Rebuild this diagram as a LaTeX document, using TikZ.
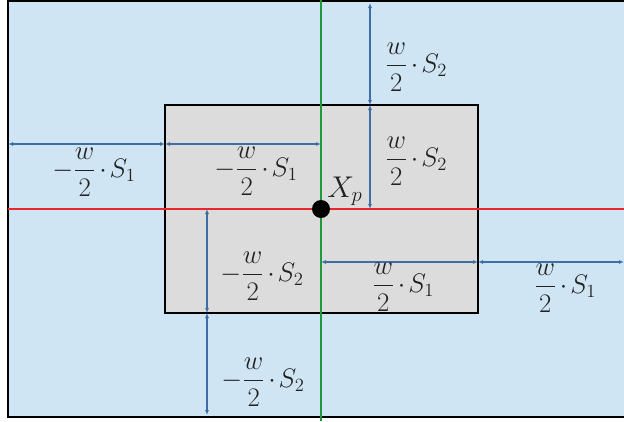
\documentclass[tikz,border=0pt]{standalone}
\usepackage{amsmath}
\usetikzlibrary{arrows.meta}

\begin{document}
\begin{tikzpicture}[x=1pt, y=-1pt,
    dimArrow/.style={draw=arrowColour, line width=1.6pt, {Latex[length=5pt,width=4pt]}-{Latex[length=5pt,width=4pt]}},
    dimLabel/.style={text=textColour, font=\LARGE, scale=1.55, inner sep=0pt}]
    % Define colours
    \definecolor{borderColour}{HTML}{000000}
    \definecolor{outerColour}{HTML}{D0E5F3}
    \definecolor{innerColour}{HTML}{DCDCDC}
    \definecolor{arrowColour}{HTML}{3F6EA6}
    \definecolor{axisOneColour}{HTML}{E8262B}
    \definecolor{axisTwoColour}{HTML}{1E9A3A}
    \definecolor{textColour}{HTML}{222222}

    % Fix picture size
    \useasboundingbox (0,0) rectangle (624,421);

    % Define coordinates for the outer and inner rectangles
    \coordinate (O1) at (8,1);
    \coordinate (O2) at (624,417);
    \coordinate (A) at (165,105);
    \coordinate (B) at (478,105);
    \coordinate (C) at (478,313);
    \coordinate (D) at (165,313);
    \coordinate (Xp) at (321,209);

    % Draw the outer rectangle (open on the right)
    \fill[outerColour] (O1) rectangle (O2);
    \draw[borderColour, line width=2pt] (624,1) -- (O1) -- (8,417) -- (624,417);

    % Draw the inner rectangle
    \filldraw[fill=innerColour, draw=borderColour, line width=2pt] (A) -- (B) -- (C) -- (D) -- cycle;

    % Draw axes through X_p
    \draw[axisOneColour, line width=2pt] (8,209) -- (624,209);
    \draw[axisTwoColour, line width=1.8pt] (321,0) -- (321,421);

    % Dimension arrows
    \coordinate (topEnd) at (370,3);
    \coordinate (topMid) at (370,105);
    \coordinate (topAxis) at (370,209);
    \draw[dimArrow] (topEnd) -- (topMid);
    \draw[dimArrow] (topMid) -- (topAxis);

    \coordinate (leftEnd) at (8,144);
    \coordinate (leftMid) at (165,144);
    \coordinate (leftAxis) at (321,144);
    \draw[dimArrow] (leftEnd) -- (leftMid);
    \draw[dimArrow] (leftMid) -- (leftAxis);

    \coordinate (botAxis) at (207,209);
    \coordinate (botMid) at (207,313);
    \coordinate (botEnd) at (207,415);
    \draw[dimArrow] (botAxis) -- (botMid);
    \draw[dimArrow] (botMid) -- (botEnd);

    \coordinate (rightAxis) at (321,262);
    \coordinate (rightMid) at (478,262);
    \coordinate (rightEnd) at (624,262);
    \draw[dimArrow] (rightAxis) -- (rightMid);
    \draw[dimArrow] (rightMid) -- (rightEnd);

    % Label the dimensions
    \node[dimLabel] (topOuter) at (416,67) {$\dfrac{w}{2}\mkern2mu{\cdot}\mkern2mu S_2$};
    \node[dimLabel] (topInner) at (416,161) {$\dfrac{w}{2}\mkern2mu{\cdot}\mkern2mu S_2$};
    \node[dimLabel] (leftOuter) at (94,172) {$-\dfrac{w}{2}\mkern2mu{\cdot}\mkern2mu S_1$};
    \node[dimLabel] (leftInner) at (256,171) {$-\dfrac{w}{2}\mkern2mu{\cdot}\mkern2mu S_1$};
    \node[dimLabel] (botInner) at (262,276) {$-\dfrac{w}{2}\mkern2mu{\cdot}\mkern2mu S_2$};
    \node[dimLabel] (botOuter) at (263,382) {$-\dfrac{w}{2}\mkern2mu{\cdot}\mkern2mu S_2$};
    \node[dimLabel] (rightInner) at (403,287) {$\dfrac{w}{2}\mkern2mu{\cdot}\mkern2mu S_1$};
    \node[dimLabel] (rightOuter) at (565,288) {$\dfrac{w}{2}\mkern2mu{\cdot}\mkern2mu S_1$};

    % Draw the point X_p
    \fill[borderColour] (Xp) circle (9);
    \node[dimLabel, scale=1.12, anchor=south west] (XpLabel) at (327,206) {$X_p$};

\end{tikzpicture}
\end{document}
